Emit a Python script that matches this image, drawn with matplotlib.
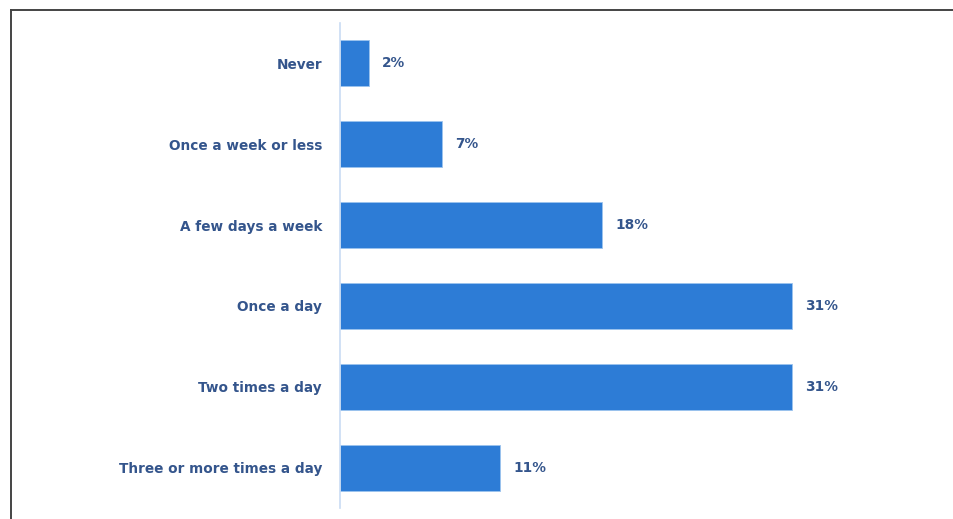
import matplotlib.pyplot as plt
from matplotlib.lines import Line2D

# survey answers, top to bottom
categories = ['Never', 'Once a week or less', 'A few days a week',
              'Once a day', 'Two times a day', 'Three or more times a day']
values = [2, 7, 18, 31, 31, 11]
labels = ['2%', '7%', '18%', '31%', '31%', '11%']

W, H = 954, 519
fig = plt.figure(figsize=(W / 100, H / 100), dpi=100)

# axes placed in pixel units
ax_left, ax_right = 340, 940
ax_top, ax_bot = 23, 508
ax = fig.add_axes([ax_left / W, 1 - ax_bot / H,
                   (ax_right - ax_left) / W, (ax_bot - ax_top) / H])

bar_col = '#2d7cd6'
txt_col = '#34558c'
fs = 9.8

ypos = list(range(len(categories)))
ax.barh(ypos, values, height=0.57, color=bar_col, edgecolor='#9cc3ee',
        linewidth=0.6)
ax.set_ylim(len(categories) - 0.5, -0.5)
px_per_unit = 14.58
ax.set_xlim(0, (ax_right - ax_left) / px_per_unit)

for y, v, lab in zip(ypos, values, labels):
    ax.annotate(lab, (v, y), xytext=(13, 0), textcoords='offset pixels',
                va='center', ha='left', fontsize=fs, color=txt_col,
                fontweight='bold')

ax.set_yticks(ypos)
ax.set_yticklabels(categories, fontsize=fs, color=txt_col, fontweight='bold')
ax.tick_params(axis='y', length=0, pad=13)
ax.set_xticks([])
for s in ['top', 'right', 'bottom']:
    ax.spines[s].set_visible(False)
ax.spines['left'].set_color('#c9dcf3')
ax.spines['left'].set_linewidth(1.2)

# frame lines around the picture (left and top)
fig.add_artist(Line2D([11.5 / W, 11.5 / W], [0, 1 - 10 / H],
                      transform=fig.transFigure, color='#444444', lw=1.4))
fig.add_artist(Line2D([11 / W, 1], [1 - 10 / H, 1 - 10 / H],
                      transform=fig.transFigure, color='#444444', lw=1.4))

fig.savefig('out.png', dpi=100)
